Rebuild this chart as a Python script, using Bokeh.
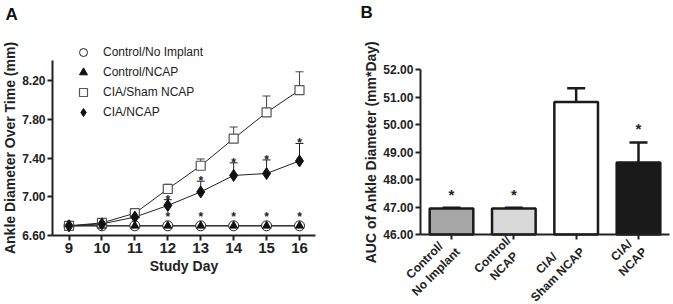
from bokeh.plotting import figure
from bokeh.layouts import row
from bokeh.models import (Range1d, FixedTicker, Legend, LegendItem, Whisker, TeeHead,
                          ColumnDataSource, Label, NumeralTickFormatter, LinearAxis,
                          CustomLabelingPolicy)
from bokeh.core.properties import value
from bokeh.embed import file_html
from bokeh.resources import INLINE

# ---------------- data ----------------
days = [9, 10, 11, 12, 13, 14, 15, 16]
ctrl_no_implant = [6.70, 6.70, 6.70, 6.70, 6.70, 6.70, 6.70, 6.70]
ctrl_ncap = [6.70, 6.70, 6.70, 6.70, 6.70, 6.70, 6.70, 6.70]
sham = [6.70, 6.73, 6.83, 7.08, 7.32, 7.60, 7.87, 8.10]
sham_err = [0.01, 0.01, 0.02, 0.05, 0.07, 0.12, 0.17, 0.19]
cia = [6.70, 6.72, 6.79, 6.91, 7.05, 7.22, 7.24, 7.37]
cia_err = [0.01, 0.01, 0.02, 0.06, 0.11, 0.13, 0.14, 0.18]
sig_days = [12, 13, 14, 15, 16]
y_ticks_a = [6.60, 7.00, 7.40, 7.80, 8.20]
y_axis_top_a = 8.41

auc_labels = ["Control/\nNo Implant", "Control/\nNCAP", "CIA/\nSham NCAP", "CIA/\nNCAP"]
auc = [46.95, 46.95, 50.82, 48.62]
auc_err = [0.02, 0.02, 0.50, 0.73]
auc_sig = [True, True, False, True]
auc_colors = ["#a6a6a6", "#d9d9d9", "#ffffff", "#1a1a1a"]
y_ticks_b = [46.0, 47.0, 48.0, 49.0, 50.0, 51.0, 52.0]

FONT = "Liberation Sans"
AX = "#222222"
W_A, W_B, H = 348, 325, 304


def lin(v0, p0, v1, p1, px):
    """value at page pixel px for a linear scale through (p0, v0) and (p1, v1)"""
    return v0 + (px - p0) * (v1 - v0) / (p1 - p0)


def make_axis(loc, ticker, bounds, label, tick_size, standoff):
    ax = LinearAxis(fixed_location=loc, ticker=FixedTicker(ticks=ticker), bounds=bounds,
                    axis_label=label)
    ax.axis_line_width = 2
    ax.axis_line_color = AX
    ax.major_tick_line_width = 2
    ax.major_tick_line_color = AX
    ax.major_tick_out = 5
    ax.major_tick_in = 0
    ax.minor_tick_line_color = None
    ax.major_label_text_font = FONT
    ax.major_label_text_font_style = "bold"
    ax.major_label_text_color = AX
    ax.major_label_text_font_size = tick_size
    ax.axis_label_text_font = FONT
    ax.axis_label_text_font_style = "bold"
    ax.axis_label_text_font_size = "14px"
    ax.axis_label_text_color = AX
    ax.major_label_standoff = 2
    ax.axis_label_standoff = standoff
    return ax


def base_fig(xr, yr, w):
    p = figure(width=w, height=H, x_range=xr, y_range=yr, min_border=0,
               x_axis_location=None, y_axis_location=None,
               output_backend="svg", toolbar_location=None)
    p.xgrid.grid_line_color = None
    p.ygrid.grid_line_color = None
    p.outline_line_color = None
    return p


# ---------------- panel A ----------------
xa = Range1d(lin(9, 68.5, 16, 299, 0), lin(9, 68.5, 16, 299, W_A))
ya = Range1d(lin(6.6, 235, 8.2, 80, H), lin(6.6, 235, 8.2, 80, 0))
pA = base_fig(xa, ya, W_A)

x_lo_a, x_hi_a = days[0] - 0.5, days[-1] + 0.5
pA.add_layout(make_axis(y_ticks_a[0], days, (x_lo_a, x_hi_a), "Study Day", "15px", 2), "below")
yax_a = make_axis(x_lo_a, y_ticks_a, (y_ticks_a[0], y_axis_top_a),
                  "Ankle Diameter Over Time (mm)", "12px", 1)
yax_a.formatter = NumeralTickFormatter(format="0.00")
pA.add_layout(yax_a, "left")

src_sham = ColumnDataSource(dict(x=days, y=sham, up=[v + e for v, e in zip(sham, sham_err)]))
src_cia = ColumnDataSource(dict(x=days, y=cia, up=[v + e for v, e in zip(cia, cia_err)]))
for s, c in ((src_sham, "#444444"), (src_cia, "#222222")):
    pA.add_layout(Whisker(source=s, base="x", lower="y", upper="up", dimension="height",
                          line_color=c, line_width=1, lower_head=None,
                          upper_head=TeeHead(size=8, line_color=c, line_width=1)))

for ser in (ctrl_no_implant, ctrl_ncap, sham, cia):
    pA.line(days, ser, line_color="#222222", line_width=1)

r_circ = pA.scatter(days, ctrl_no_implant, marker="circle", size=10,
                    fill_color="white", line_color="#222222", line_width=1)
r_tri = pA.scatter(days, ctrl_ncap, marker="triangle", size=8,
                   fill_color="#111111", line_color="#111111")
r_sq = pA.scatter(days, sham, marker="square", size=9,
                  fill_color="white", line_color="#555555", line_width=1.2)
r_dia = pA.scatter(days, cia, marker="diamond", size=12,
                   fill_color="#111111", line_color="#111111")

ctrl_sig = [ctrl_no_implant[days.index(d)] for d in sig_days]
cia_sig = [cia[days.index(d)] + cia_err[days.index(d)] for d in sig_days]
pA.text(sig_days, ctrl_sig, text=["*"] * len(sig_days), text_align="center",
        text_baseline="bottom", y_offset=-2, text_font=value(FONT),
        text_font_style="bold", text_font_size="12px", text_color="#222222")
pA.text(sig_days, cia_sig, text=["*"] * len(sig_days), text_align="center",
        text_baseline="middle", text_font=value(FONT),
        text_font_style="bold", text_font_size="12px", text_color="#222222")

legend = Legend(items=[LegendItem(label="Control/No Implant", renderers=[r_circ]),
                       LegendItem(label="Control/NCAP", renderers=[r_tri]),
                       LegendItem(label="CIA/Sham NCAP", renderers=[r_sq]),
                       LegendItem(label="CIA/NCAP", renderers=[r_dia])],
                location=(73, H - 122), background_fill_alpha=0, border_line_color=None,
                padding=0, margin=0, spacing=0, glyph_width=20, glyph_height=20,
                label_height=20, label_standoff=10, label_text_font=FONT,
                label_text_font_size="12px", label_text_color="#222222")
pA.add_layout(legend)

pA.add_layout(Label(x=xa.start, y=ya.end, x_offset=5, y_offset=-4, text="A",
                    text_baseline="top", text_font=FONT, text_font_style="bold",
                    text_font_size="17px", text_color="#111111"))

# ---------------- panel B ----------------
xb = list(range(len(auc_labels)))
rb = Range1d(lin(0, 451, 3, 638, W_A), lin(0, 451, 3, 638, W_A + W_B))
yb = Range1d(lin(46, 234, 52, 69, H), lin(46, 234, 52, 69, 0))
pB = base_fig(rb, yb, W_B)

xax_b = make_axis(y_ticks_b[0], xb, (xb[0] - 0.5, xb[-1] + 0.5), None, "12px", 2)
# the category names are drawn below as rotated two-line texts
xax_b.major_label_policy = CustomLabelingPolicy(code="return new Set()")
pB.add_layout(xax_b, "below")
yax_b = make_axis(xb[0] - 0.5, y_ticks_b, (y_ticks_b[0], y_ticks_b[-1]),
                  "AUC of Ankle Diameter (mm*Day)", "12px", 1)
yax_b.formatter = NumeralTickFormatter(format="0.00")
pB.add_layout(yax_b, "left")

src_b = ColumnDataSource(dict(x=xb, top=auc, up=[v + e for v, e in zip(auc, auc_err)],
                              color=auc_colors))
pB.add_layout(Whisker(source=src_b, base="x", lower="top", upper="up", dimension="height",
                      line_color="#1a1a1a", line_width=2.5, lower_head=None,
                      upper_head=TeeHead(size=18, line_color="#1a1a1a", line_width=2.5)))
pB.vbar(x="x", top="top", bottom=y_ticks_b[0], width=0.7, source=src_b, fill_color="color",
        line_color="#1a1a1a", line_width=2.5)

# rotated category labels (top-right corner of each two-line block near the tick)
pB.text(xb, [y_ticks_b[0]] * len(xb), text=auc_labels, angle=0.785398,
        anchor="top_right", text_align="center", x_offset=-10, y_offset=-1,
        text_font=value(FONT), text_font_style="bold", text_font_size="12px",
        text_color="#222222", text_line_height=1.15)

star_x = [x for x, s in zip(xb, auc_sig) if s]
star_y = [v + e for v, e, s in zip(auc, auc_err, auc_sig) if s]
pB.text(star_x, star_y, text=["*"] * len(star_x), text_align="center",
        text_baseline="bottom", y_offset=-5, text_font=value(FONT),
        text_font_style="bold", text_font_size="15px", text_color="#222222")

pB.add_layout(Label(x=rb.start, y=yb.end, x_offset=12, y_offset=-2, text="B",
                    text_baseline="top", text_font=FONT, text_font_style="bold",
                    text_font_size="17px", text_color="#111111"))

layout = row(pA, pB)
open("out.html", "w").write(file_html(layout, INLINE))
